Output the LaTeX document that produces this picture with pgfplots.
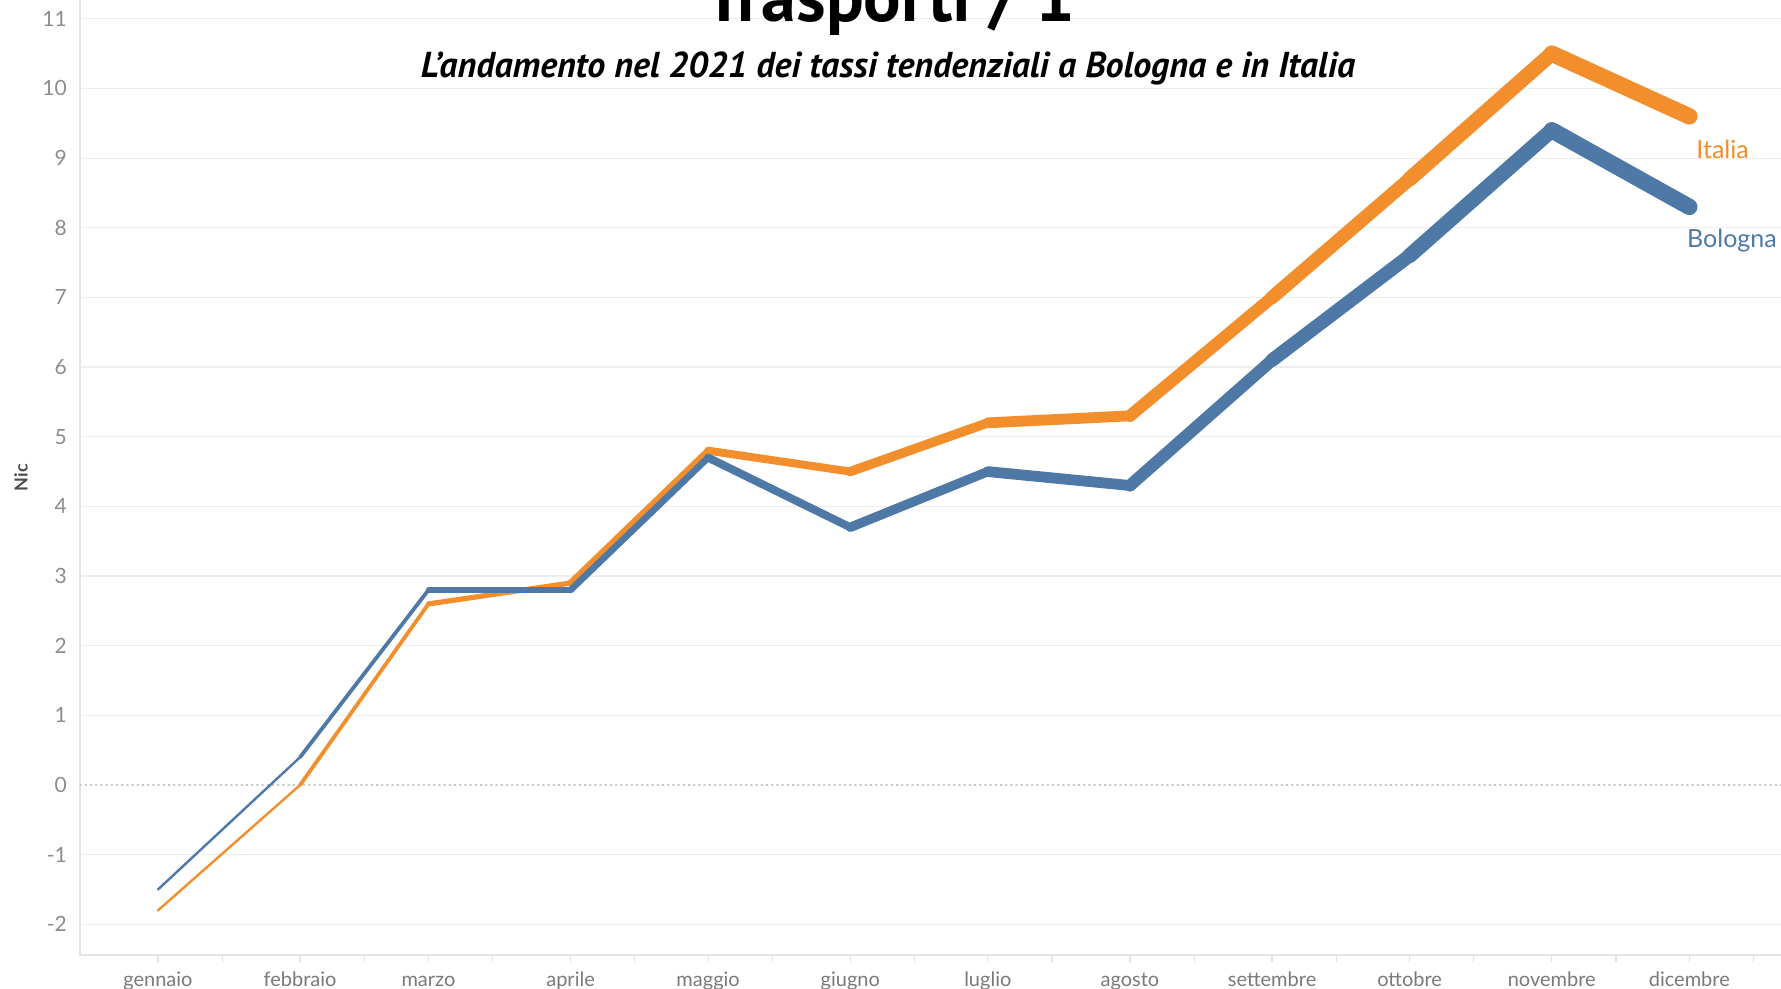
\documentclass[border=0pt]{standalone}
\usepackage{fontspec}
\setmainfont{Lato}
\newfontfamily\titlefont{PT Sans}
\usepackage{pgfplots}
\usepackage{pgfplotstable}
\pgfplotsset{compat=1.18}

\definecolor{italia}{HTML}{F28E2B}
\definecolor{bologna}{HTML}{4E79A7}
\definecolor{gridc}{HTML}{EEEEEE}
\definecolor{axisc}{HTML}{E4E4E4}
\definecolor{tickc}{HTML}{8C8C8C}
\definecolor{xlabc}{HTML}{7A7A7A}

% day of year (1st of each month), tasso tendenziale
\pgfplotstableread{
day  italia bologna
0    -1.8   -1.5
31    0.0    0.4
59    2.6    2.8
90    2.9    2.8
120   4.8    4.7
151   4.5    3.7
181   5.2    4.5
212   5.3    4.3
243   7.0    6.1
273   8.7    7.6
304  10.5    9.4
334   9.6    8.3
}\datatable

% keep only points #1 and #1+1 of the table
\pgfplotsset{segment/.style={x filter/.expression={(\coordindex<#1 || \coordindex>#1+1) ? nan : x}}}

\begin{document}
\begin{tikzpicture}
\begin{axis}[
  name=main, at={(0,0)}, anchor=south west,
  scale only axis, width=850.5pt, height=477.5pt,
  xmin=-17, xmax=354, ymin=-2.44, ymax=11.27,
  axis x line*=bottom, axis y line*=left,
  axis line style={axisc, line width=0.6pt},
  xtick={0,31,59,90,120,151,181,212,243,273,304,334},
  xticklabels={gennaio,febbraio,marzo,aprile,maggio,giugno,luglio,agosto,settembre,ottobre,novembre,dicembre},
  minor xtick={14,45,73,104,134,165,195,226,257,287,318,348},
  tick align=outside, major tick length=3.5pt, minor tick length=3.5pt,
  xtick style={axisc, line width=0.6pt},
  xticklabel style={font=\fontsize{10}{12}\selectfont, text=xlabc, anchor=base, yshift=-12.4pt},
  ytick={-2,-1,1,2,...,11},
  extra y ticks={0},
  extra y tick style={grid style={dotted, color=gray!45, line width=0.7pt}},
  ytick style={draw=none},
  ymajorgrids, grid style={gridc, line width=0.6pt},
  yticklabel style={font=\fontsize{10.5}{12}\selectfont, text=tickc, anchor=east, xshift=0.4pt},
  /pgf/number format/assume math mode=true,
  clip=false,
  line cap=round, line join=round,
]
\pgfplotsinvokeforeach{0,...,10}{
  \addplot[italia, line width=1.2pt+0.7pt*#1, segment=#1]
    table[x=day, y=italia] {\datatable};
}
\pgfplotsinvokeforeach{0,...,10}{
  \addplot[bologna, line width=1.2pt+0.7pt*#1, segment=#1]
    table[x=day, y=bologna] {\datatable};
}
\node[anchor=west, text=italia, font=\fontsize{12.5}{14}\selectfont] at (axis cs:334,9.12) {Italia};
\node[anchor=west, text=bologna, font=\fontsize{12.5}{14}\selectfont] at (axis cs:332,7.82) {Bologna};
\end{axis}
\node[rotate=90, text=black!70, font=\fontsize{9}{10}\selectfont\bfseries] at ([xshift=-29.5pt]main.west) {Nic};
\node[anchor=base, font=\titlefont\bfseries\fontsize{35}{38}\selectfont] at ([xshift=405pt, yshift=-11pt]main.north west) {Trasporti / 1};
\node[anchor=base, font=\titlefont\bfseries\itshape\fontsize{18}{20}\selectfont] at ([xshift=404pt, yshift=-39pt]main.north west) {L’andamento nel 2021 dei tassi tendenziali a Bologna e in Italia};
\pgfresetboundingbox
\path[use as bounding box] ([shift={(-40pt,-16.5pt)}]main.south west) rectangle (main.north east);
\end{tikzpicture}
\end{document}
